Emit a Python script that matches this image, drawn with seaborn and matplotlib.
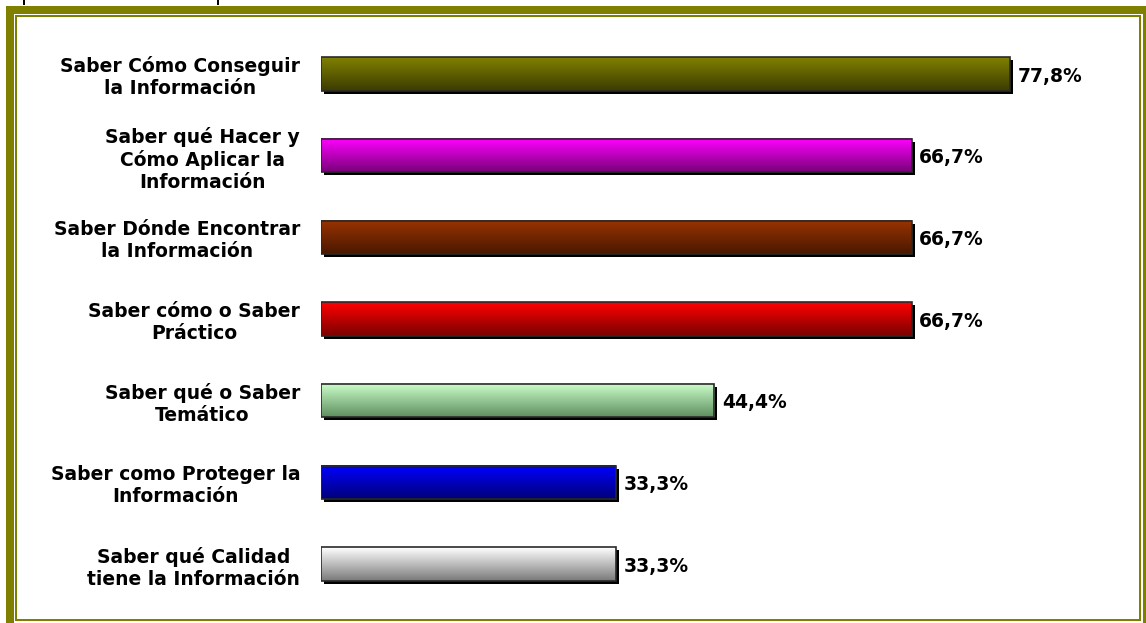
import numpy as np
import pandas as pd
import matplotlib
matplotlib.use("Agg")
import matplotlib.pyplot as plt
import matplotlib.transforms as mtransforms
from matplotlib.patches import Rectangle
from matplotlib.lines import Line2D
from matplotlib.colors import to_rgb
import seaborn as sns

# Data
categories = [
    "Saber Cómo Conseguir\nla Información",
    "Saber qué Hacer y\nCómo Aplicar la\nInformación",
    "Saber Dónde Encontrar\nla Información",
    "Saber cómo o Saber\nPráctico",
    "Saber qué o Saber\nTemático",
    "Saber como Proteger la\nInformación",
    "Saber qué Calidad\ntiene la Información",
]
values = [77.8, 66.7, 66.7, 66.7, 44.4, 33.3, 33.3]

# Gradient colours for each bar: top -> bottom
top_colors = ["#808000", "#FF00FF", "#993300", "#FF0000", "#CCFFCC", "#0000FF", "#FFFFFF"]
bottom_colors = ["#3C3C00", "#7A007A", "#4A1800", "#7A0000", "#5F8F5F", "#00007A", "#7A7A7A"]

W, H, DPI = 1146, 623, 100
OLIVE = "#808000"

sns.set_theme(style="white")
plt.rcParams["font.family"] = ["DejaVu Sans"]

fig = plt.figure(figsize=(W / DPI, H / DPI), dpi=DPI)
fig.patch.set_facecolor("white")

# Axes placed in pixel terms: bars start at x=321, 8.856 px per percent
px_per_unit = 8.856
xmax = 88.0
ax_left = 321
ax_w = xmax * px_per_unit
row_pitch = 81.67
y_top_center = 74
ax_top = y_top_center - row_pitch / 2
ax_h = row_pitch * len(categories)
ax = fig.add_axes([ax_left / W, 1 - (ax_top + ax_h) / H, ax_w / W, ax_h / H])

df = pd.DataFrame({"categoria": categories, "valor": values})
bar_h = 0.41
sns.barplot(data=df, x="valor", y="categoria", orient="h", ax=ax,
            color="white", width=bar_h, saturation=1)

shadow_tf = ax.transData + mtransforms.ScaledTranslation(3 / DPI, -3 / DPI, fig.dpi_scale_trans)

for i, patch in enumerate(ax.patches):
    x0, y0 = patch.get_x(), patch.get_y()
    w, h = patch.get_width(), patch.get_height()
    # drop shadow
    ax.add_patch(Rectangle((x0, y0), w, h, facecolor="black", edgecolor="none",
                           transform=shadow_tf, zorder=1))
    # vertical gradient fill
    c_top = np.array(to_rgb(top_colors[i]))
    c_bot = np.array(to_rgb(bottom_colors[i]))
    t = np.linspace(0, 1, 64)[:, None, None]
    grad = c_top * (1 - t) + c_bot * t
    ax.imshow(grad, extent=(x0, x0 + w, y0 + h, y0), origin="upper",
              aspect="auto", interpolation="bicubic", zorder=2)
    patch.set_facecolor("none")
    patch.set_edgecolor("#2a2a2a")
    patch.set_linewidth(1.2)
    patch.set_zorder(3)
    # value label
    label = f"{values[i]:.1f}%".replace(".", ",")
    ax.annotate(label, xy=(x0 + w, y0 + h / 2), xytext=(5.5, -1.5),
                textcoords="offset points", ha="left", va="center",
                fontsize=13.5, fontweight="bold", color="black", zorder=4)

ax.set_xlim(0, xmax)
ax.set_ylim(len(categories) - 0.5, -0.5)
ax.set_xlabel("")
ax.set_ylabel("")
ax.set_xticks([])
for s in ax.spines.values():
    s.set_visible(False)
ax.tick_params(axis="y", length=0, pad=15)
for lbl in ax.get_yticklabels():
    lbl.set_fontsize(13.5)
    lbl.set_fontweight("bold")
    lbl.set_color("black")
    lbl.set_multialignment("center")
ax.set_facecolor("none")


def fig_rect(x0, y0, x1, y1, lw_px, color):
    r = Rectangle((x0 / W, 1 - y1 / H), (x1 - x0) / W, (y1 - y0) / H,
                  transform=fig.transFigure, fill=False, edgecolor=color,
                  linewidth=lw_px * 72 / DPI, joinstyle="miter", zorder=10)
    fig.add_artist(r)


# Double olive frame
fig_rect(10, 10, 1146.7, 627, 8, OLIVE)
fig_rect(16.2, 16, 1140, 620, 2, OLIVE)

# Small dark strokes peeking in above the frame
for xp in (23.5, 217.5):
    fig.add_artist(Line2D([xp / W, xp / W], [1.0, 1 - 5 / H], transform=fig.transFigure,
                          color="black", linewidth=2 * 72 / DPI, solid_capstyle="butt"))

fig.savefig("out.png", dpi=DPI)
